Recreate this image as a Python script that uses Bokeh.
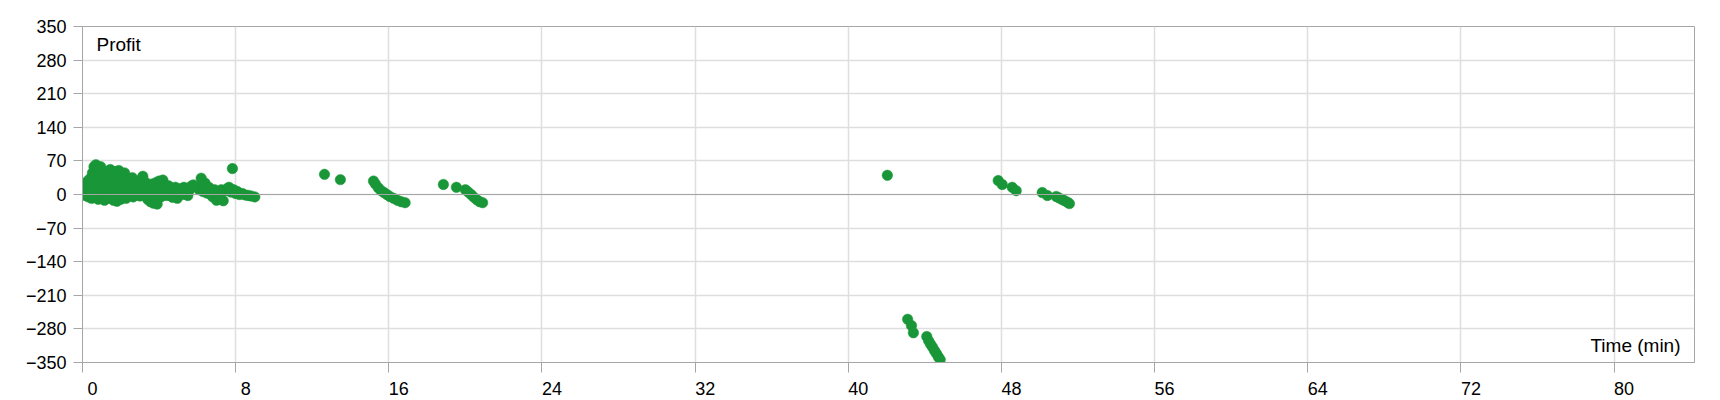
from bokeh.plotting import figure
from bokeh.models import (FixedTicker, Span, Label, ColumnDataSource, Range1d, LinearAxis,
                          CustomLabelingPolicy)
from bokeh.embed import file_html
from bokeh.resources import INLINE

# Dense cluster and later groups: time (min), profit
time_min = [
    0.10, 0.12, 0.15, 0.18, 0.20, 0.22, 0.25, 0.28, 0.30, 0.32, 0.35, 0.38, 0.40, 0.42, 0.45, 0.48,
    0.50, 0.52, 0.55, 0.58, 0.60, 0.62, 0.65, 0.68, 0.70, 0.72, 0.75, 0.78, 0.80, 0.82, 0.85, 0.88,
    0.90, 0.92, 0.95, 0.98, 1.00, 1.05, 1.08, 1.10, 1.15, 1.18, 1.20, 1.25, 1.30, 1.32, 1.35, 1.40,
    1.45, 1.48, 1.50, 1.55, 1.60, 1.62, 1.65, 1.70, 1.75, 1.78, 1.80, 1.85, 1.88, 1.90, 1.95, 2.00,
    2.02, 2.05, 2.10, 2.15, 2.20, 2.25, 2.28, 2.30, 2.35, 2.40, 2.45, 2.50, 2.55, 2.60, 2.65, 2.70,
    2.75, 2.80, 2.85, 2.90, 2.95, 3.00, 3.05, 3.10, 3.15, 3.20, 3.25, 3.30, 3.40, 3.45, 3.50, 3.55,
    3.60, 3.65, 3.70, 3.75, 3.80, 3.85, 3.90, 3.95, 4.00, 4.05, 4.10, 4.20, 4.25, 4.30, 4.40, 4.45,
    4.50, 4.60, 4.70, 4.80, 4.85, 4.95, 5.00, 5.10, 5.20, 5.30, 5.40, 5.50, 5.60, 5.70, 5.80, 6.10,
    6.20, 6.25, 6.30, 6.40, 6.50, 6.60, 6.70, 6.80, 6.90, 7.00, 7.10, 7.20, 7.25, 7.35, 7.45, 7.55,
    7.65, 7.75, 7.83, 7.90, 8.00, 8.10, 8.20, 8.35, 8.50, 8.65, 8.80, 9.00,
    12.64, 13.47,
    15.20, 15.30, 15.45, 15.60, 15.75, 15.90, 16.05, 16.25, 16.45, 16.65, 16.85,
    18.85, 19.53,
    20.00, 20.15, 20.30, 20.45, 20.60, 20.75, 20.90,
    42.04,
    43.10, 43.30, 43.40,
    44.10, 44.20, 44.30, 44.40, 44.50, 44.60, 44.70, 44.80,
    47.83, 48.04, 48.56, 48.77,
    50.13, 50.40,
    50.86, 51.00, 51.15, 51.30, 51.45, 51.55,
]
profit = [
    5, 20, -2, 12, 25, 2, 15, 8, -5, 30, 18, 0, 10, 22, 35, -8,
    5, 45, 15, 28, 58, -3, 38, 10, 62, 20, 48, 2, 30, -10, 55, 12,
    40, 25, 58, -6, 18, 35, 5, 45, -12, 22, 30, 8, 48, 15, -8, 38,
    52, 0, 25, 12, 42, -12, 30, 5, 48, 20, -14, 35, 10, 50, 28, -10,
    15, 40, 0, 25, 45, 8, -8, 35, 18, 30, 2, 22, 12, 35, -5, 25,
    8, 18, 0, 28, 12, -3, 20, 8, 38, 15, 2, 25, -10, 10, 18, -15,
    5, 22, -18, 12, 0, 25, -20, 8, 28, 15, -5, 30, 5, 20, -2, 12,
    18, 2, -6, 10, 15, -8, 5, 12, 0, 15, 8, -2, 10, 18, 20, 10,
    34, 18, 6, 24, 3, 15, 0, -5, 10, -12, 5, -8, 10, -13, 8, 12,
    15, 5, 54, 10, 2, 6, 0, 2, -1, -2, -3, -5,
    42, 31,
    28, 22, 14, 8, 4, 0, -4, -8, -12, -15, -17,
    21, 15,
    10, 5, 0, -6, -11, -15, -17,
    40,
    -260, -273, -288,
    -296, -305, -312, -318, -325, -331, -338, -344,
    29, 21, 15, 8,
    4, -2,
    -4, -7, -10, -13, -16, -19,
]

x_ticks = [0, 8, 16, 24, 32, 40, 48, 56, 64, 72, 80]
y_ticks = [-350, -280, -210, -140, -70, 0, 70, 140, 210, 280, 350]
x_min, x_max = 0, 84.2
y_min, y_max = -350, 350

FONT = "Liberation Sans"
DOT = "#199638"
AXIS_GRAY = "#a6a6a6"
GRID_GRAY = "#dedede"

W, H = 1712, 399
BL, BR, BT, BB = 82, 18, 26, 37
FRAME_W = W - BL - BR
FRAME_H = H - BT - BB
LABEL_SHIFT_PX = 10  # tick labels sit just right of their ticks
shift = LABEL_SHIFT_PX * (x_max - x_min) / FRAME_W

p = figure(width=W, height=H, output_backend="svg", toolbar_location=None,
           x_range=Range1d(x_min, x_max), y_range=Range1d(y_min, y_max),
           min_border_left=BL, min_border_right=BR, min_border_top=BT, min_border_bottom=BB)
p.extra_x_ranges = {"labels": Range1d(x_min - shift, x_max - shift)}

src = ColumnDataSource(dict(t=time_min, profit=profit))
p.scatter("t", "profit", source=src, size=10.5, fill_color=DOT, line_color=DOT, line_width=0.5)

p.xaxis.ticker = FixedTicker(ticks=x_ticks)
p.yaxis.ticker = FixedTicker(ticks=y_ticks)

for ax in (p.xaxis, p.yaxis):
    ax.axis_line_color = AXIS_GRAY
    ax.major_tick_line_color = AXIS_GRAY
    ax.minor_tick_line_color = None
    ax.major_tick_in = 0
    ax.major_label_text_font = FONT
    ax.major_label_text_font_size = "18px"
    ax.major_label_text_color = "#000000"
    ax.axis_label_standoff = 0

p.xaxis.major_tick_out = 10
p.yaxis.major_tick_out = 9
p.yaxis.major_label_standoff = 7
# main x axis: ticks only
p.xaxis.major_label_policy = CustomLabelingPolicy(code="return new Set()")
p.xaxis.major_label_standoff = 0

# second x axis: tick labels only, placed just right of each tick
lab_axis = LinearAxis(x_range_name="labels", ticker=FixedTicker(ticks=x_ticks),
                      axis_line_color=None, major_tick_line_color=None,
                      minor_tick_line_color=None, major_tick_in=0, major_tick_out=0,
                      major_label_standoff=-7, axis_label_standoff=0, major_label_text_font=FONT,
                      major_label_text_font_size="18px", major_label_text_color="#000000")
p.add_layout(lab_axis, "below")

p.xgrid.ticker = FixedTicker(ticks=x_ticks)
p.ygrid.ticker = FixedTicker(ticks=y_ticks)
p.xgrid.grid_line_color = GRID_GRAY
p.ygrid.grid_line_color = GRID_GRAY
p.xgrid.grid_line_width = 1.5
p.ygrid.grid_line_width = 1.5

p.outline_line_color = AXIS_GRAY
p.outline_line_width = 1

p.add_layout(Span(location=0, dimension="width", line_color=AXIS_GRAY, line_width=1.2), "center")
p.renderers.insert(0, p.renderers.pop())

p.add_layout(Label(x=14, y=FRAME_H - 18, x_units="screen", y_units="screen",
                   text="Profit", text_font=FONT, text_font_size="19px",
                   text_baseline="middle", text_align="left", text_color="#000000"))
p.add_layout(Label(x=FRAME_W - 14, y=17, x_units="screen", y_units="screen",
                   text="Time (min)", text_font=FONT, text_font_size="19px",
                   text_baseline="middle", text_align="right", text_color="#000000"))

p.background_fill_color = "white"
p.border_fill_color = "white"

open("out.html", "w").write(file_html(p, INLINE))
